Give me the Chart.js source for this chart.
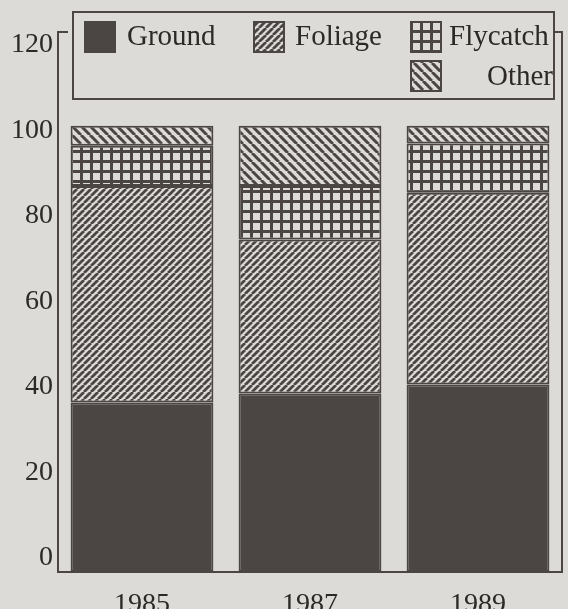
<!DOCTYPE html>
<html>
<head>
<meta charset="utf-8">
<script src="https://cdn.jsdelivr.net/npm/chart.js@4.4.1/dist/chart.umd.min.js"></script>
<style>
  html, body { margin: 0; padding: 0; background: #dcdbd8; }
  #wrap { width: 568px; height: 609px; }
</style>
</head>
<body>
<div id="wrap"><canvas id="foraging-chart" width="568" height="609"></canvas></div>
<script>
const years = ['1985', '1987', '1989'];
const ground = [38, 40, 42];
const foliage = [48.5, 34.5, 43];
const flycatch = [9, 12, 11];
const other = [4.5, 13.5, 4];
const yTicks = [0, 20, 40, 60, 80, 100, 120];

const paper = '#dcdbd8';
const ink = '#4b4643';
const textInk = '#2c2927';
const serif = '"Liberation Serif", "DejaVu Serif", serif';

function hatch(size, dir, lineW) {
    const c = document.createElement('canvas');
    c.width = size;
    c.height = size;
    const g = c.getContext('2d');
    g.fillStyle = paper;
    g.fillRect(0, 0, size, size);
    g.strokeStyle = ink;
    g.lineWidth = lineW;
    g.beginPath();
    for (let k = -1; k <= 1; k++) {
        if (dir > 0) {
            g.moveTo(k * size, size);
            g.lineTo(k * size + size, 0);
        } else {
            g.moveTo(k * size, 0);
            g.lineTo(k * size + size, size);
        }
    }
    g.stroke();
    return g.createPattern(c, 'repeat');
}

function gridPattern(size, lineW) {
    const c = document.createElement('canvas');
    c.width = size;
    c.height = size;
    const g = c.getContext('2d');
    g.fillStyle = paper;
    g.fillRect(0, 0, size, size);
    g.fillStyle = ink;
    g.fillRect(0, 0, size, lineW);
    g.fillRect(0, 0, lineW, size);
    return g.createPattern(c, 'repeat');
}

// frame: left/right brackets and base line
const framePlugin = {
    id: 'frame',
    afterDatasetsDraw(chart) {
        const a = chart.chartArea;
        const ctx = chart.ctx;
        ctx.save();
        ctx.strokeStyle = ink;
        ctx.lineWidth = 2;
        ctx.beginPath();
        ctx.moveTo(a.left + 10, a.top);
        ctx.lineTo(a.left, a.top);
        ctx.lineTo(a.left, a.bottom);
        ctx.lineTo(a.right, a.bottom);
        ctx.lineTo(a.right, a.top);
        ctx.lineTo(a.right - 7, a.top);
        ctx.stroke();
        ctx.restore();
    }
};

// boxed legend sitting inside the plot, above the bars
const boxLegend = {
    id: 'boxLegend',
    afterDraw(chart) {
        const ctx = chart.ctx;
        const sets = chart.data.datasets;
        const spots = [
            { sx: 84, sy: 21, tx: 127, ty: 45, align: 'left' },
            { sx: 253, sy: 21, tx: 295, ty: 45, align: 'left' },
            { sx: 410, sy: 21, tx: 449, ty: 45, align: 'left' },
            { sx: 410, sy: 60, tx: 553, ty: 85, align: 'right' }
        ];
        ctx.save();
        ctx.fillStyle = paper;
        ctx.fillRect(73, 12, 481, 87);
        ctx.strokeStyle = ink;
        ctx.lineWidth = 2;
        ctx.strokeRect(73, 12, 481, 87);
        ctx.font = '29px ' + serif;
        ctx.textBaseline = 'alphabetic';
        sets.forEach((ds, i) => {
            const p = spots[i];
            ctx.fillStyle = ds.backgroundColor;
            ctx.fillRect(p.sx, p.sy, 32, 32);
            ctx.lineWidth = 2;
            ctx.strokeStyle = ink;
            ctx.strokeRect(p.sx + 1, p.sy + 1, 30, 30);
            ctx.fillStyle = textInk;
            ctx.textAlign = p.align;
            ctx.fillText(ds.label, p.tx, p.ty);
        });
        ctx.restore();
    }
};

document.addEventListener('DOMContentLoaded', function () {
    const ctx = document.getElementById('foraging-chart').getContext('2d');

    const barStyle = {
        borderColor: ink,
        borderWidth: 2,
        borderSkipped: false,
        categoryPercentage: 1,
        barPercentage: 0.85
    };

    new Chart(ctx, {
        type: 'bar',
        data: {
            labels: years,
            datasets: [
                Object.assign({ label: 'Ground', data: ground, backgroundColor: ink }, barStyle),
                Object.assign({ label: 'Foliage', data: foliage, backgroundColor: hatch(7, 1, 2.8) }, barStyle),
                Object.assign({ label: 'Flycatch', data: flycatch, backgroundColor: gridPattern(10, 3) }, barStyle),
                Object.assign({ label: 'Other', data: other, backgroundColor: hatch(9, -1, 3) }, barStyle)
            ]
        },
        options: {
            responsive: false,
            animation: false,
            layout: { padding: { top: 32, right: 6, left: 0, bottom: 0 } },
            plugins: {
                legend: { display: false },
                tooltip: { enabled: false }
            },
            scales: {
                x: {
                    stacked: true,
                    grid: { display: false },
                    border: { display: false },
                    ticks: {
                        color: textInk,
                        font: { family: serif, size: 28 },
                        padding: 8
                    },
                    afterFit: function (s) { s.height = 37; }
                },
                // bars are measured on this one
                y: {
                    stacked: true,
                    display: false,
                    min: 0,
                    max: 121
                },
                // the printed tick labels in the figure are spaced a bit tighter than the bars
                yLabels: {
                    position: 'left',
                    min: -3.3,
                    max: 123,
                    afterBuildTicks: function (s) {
                        s.ticks = yTicks.map(v => ({ value: v }));
                    },
                    grid: { display: false, drawTicks: false },
                    border: { display: false },
                    ticks: {
                        color: textInk,
                        font: { family: serif, size: 28 },
                        padding: 5
                    },
                    afterFit: function (s) { s.width = 58; }
                }
            }
        },
        plugins: [framePlugin, boxLegend]
    });
});
</script>
</body>
</html>
